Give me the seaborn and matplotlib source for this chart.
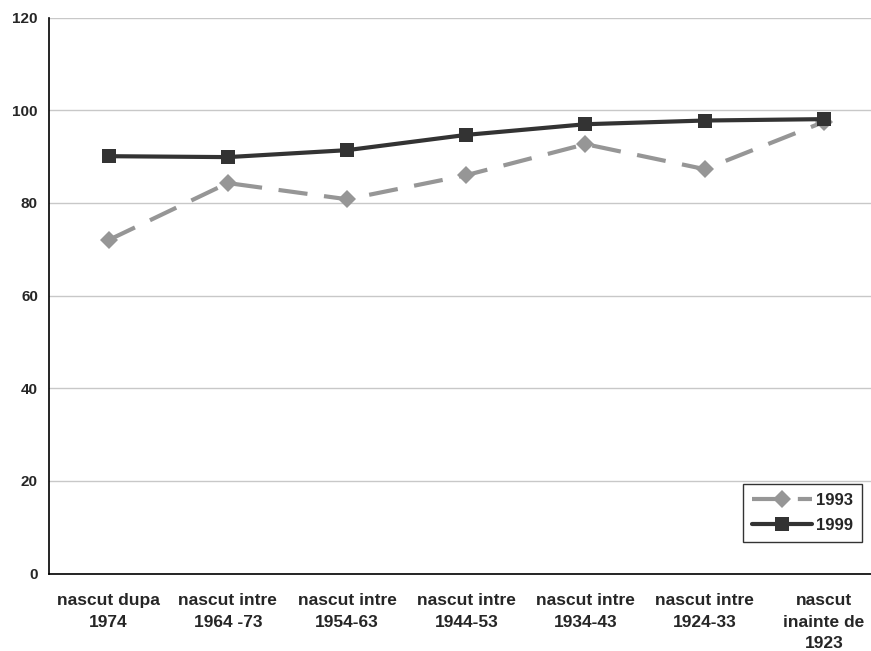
import matplotlib
matplotlib.use("Agg")
import matplotlib.pyplot as plt
import seaborn as sns
import pandas as pd
import numpy as np

categories = ["nascut dupa\n1974", "nascut intre\n1964 -73", "nascut intre\n1954-63",
              "nascut intre\n1944-53", "nascut intre\n1934-43", "nascut intre\n1924-33",
              "nascut\ninainte de\n1923"]
v1993 = [72.0, 84.3, 80.8, 86.0, 92.7, 87.3, 97.5]
v1999 = [90.1, 89.9, 91.4, 94.7, 97.0, 97.8, 98.1]
yticks = [0, 20, 40, 60, 80, 100, 120]

sns.set_style("white")
plt.rcParams['font.family'] = ['Liberation Sans', 'DejaVu Sans']

df = pd.DataFrame({
    "x": list(range(len(categories))) * 2,
    "val": v1993 + v1999,
    "series": ["1993"] * len(v1993) + ["1999"] * len(v1999),
})

fig = plt.figure(figsize=(8.71, 6.51), dpi=100)
ax = fig.add_axes([49/871, (651-573.5)/651, (883.5-49)/871, (573.5-17.7)/651])

sns.lineplot(data=df, x="x", y="val", hue="series", style="series",
             palette={"1993": "#969696", "1999": "#333333"},
             markers={"1993": "D", "1999": "s"},
             dashes={"1993": (7, 4), "1999": ""},
             markersize=10, markeredgewidth=0, linewidth=3, ax=ax)
for line in ax.lines:
    if line.get_color() == "#969696":
        line.set_markersize(9)
        line.set_zorder(2)
    else:
        line.set_zorder(3)

ax.set_xlim(-0.5, 6.5)
ax.set_ylim(0, 120)
ax.set_yticks(yticks)
ax.set_yticklabels([str(t) for t in yticks], fontsize=11, fontweight="bold")
ax.set_xticks(range(len(categories)))
ax.set_xticklabels(categories, fontsize=12.5, fontweight="bold", linespacing=1.55)
ax.set_xticks(np.arange(-0.5, 6.5, 1.0), minor=True)
ax.tick_params(axis="x", which="major", length=0, pad=14)
ax.tick_params(axis="x", which="minor", length=5, width=1, color="black", direction="out")
ax.tick_params(axis="y", length=5, width=1, color="black", direction="out", pad=3)
ax.set_xlabel("")
ax.set_ylabel("")
ax.yaxis.grid(True, color="#c8c8c8", linewidth=1)
ax.set_axisbelow(True)
for s in ["top", "right"]:
    ax.spines[s].set_visible(False)
for s in ["left", "bottom"]:
    ax.spines[s].set_color("black")
    ax.spines[s].set_linewidth(1.2)

leg = ax.legend(loc="upper left", bbox_to_anchor=(743/871, 1-484/651), bbox_transform=fig.transFigure,
                frameon=True, fancybox=False, prop={"weight": "bold", "size": 12},
                handlelength=3.6, borderpad=0.55, labelspacing=0.6, handletextpad=0.2,
                borderaxespad=0)
leg.get_frame().set_edgecolor("black")
leg.get_frame().set_linewidth(1)

fig.savefig("out.png", dpi=100)
